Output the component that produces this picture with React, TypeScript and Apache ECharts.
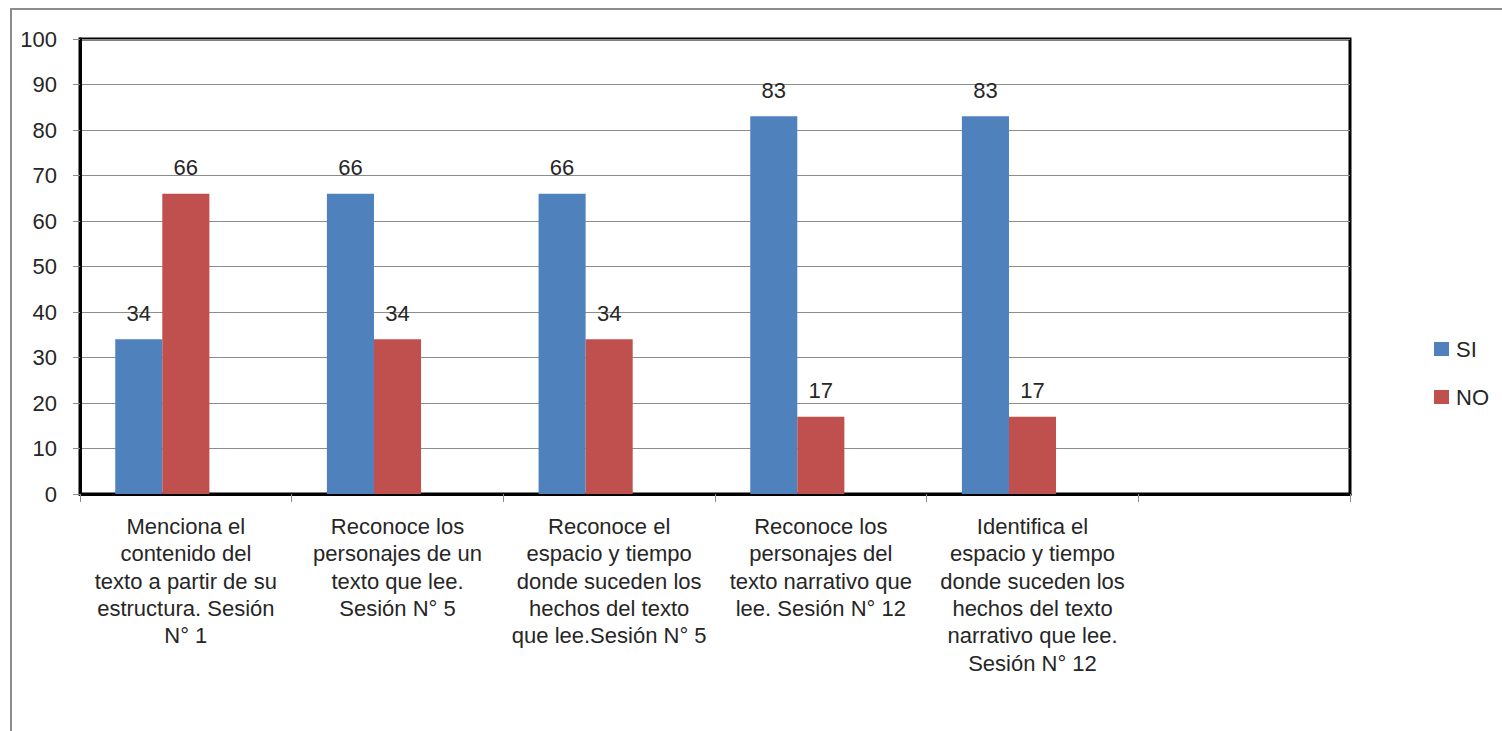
import React, { useEffect, useRef } from "react";
import * as echarts from "echarts";

const categories = [
  "Menciona el\ncontenido del\ntexto a partir de su\nestructura. Sesión\nN° 1",
  "Reconoce los\npersonajes de un\ntexto que lee.\nSesión N° 5",
  "Reconoce el\nespacio y tiempo\ndonde suceden los\nhechos del texto\nque lee.Sesión N° 5",
  "Reconoce los\npersonajes del\ntexto narrativo que\nlee. Sesión N° 12",
  "Identifica el\nespacio y tiempo\ndonde suceden los\nhechos del texto\nnarrativo que lee.\nSesión N° 12",
  "",
];
const siValues = [34, 66, 66, 83, 83, null];
const noValues = [66, 34, 34, 17, 17, null];
const emptyValues = [null, null, null, null, null, null];

const FONT = "'Liberation Sans', Arial, sans-serif";
const FS = 22;
const TXT = "#262626";

export default function App() {
  const ref = useRef<HTMLDivElement>(null);
  useEffect(() => {
    const chart = echarts.init(ref.current!, null, { renderer: "svg" });
    chart.setOption({
      animation: false,
      backgroundColor: "#ffffff",
      textStyle: { fontFamily: FONT },
      graphic: [
        {
          type: "rect",
          shape: { x: 11, y: 9, width: 1600, height: 900 },
          style: { fill: "none", stroke: "#8c8c8c", lineWidth: 2 },
          silent: true,
        },
      ],
      grid: {
        left: 80,
        top: 39,
        right: 152,
        bottom: 237,
        show: true,
        borderColor: "#000000",
        borderWidth: 3,
        containLabel: false,
      },
      legend: {
        orient: "vertical",
        left: 1429,
        top: 333,
        itemWidth: 15,
        itemHeight: 14,
        itemGap: 26,
        icon: "rect",
        data: ["SI", "NO"],
        textStyle: { fontSize: FS, color: TXT, fontFamily: FONT, padding: [0, 0, 0, 2] },
      },
      xAxis: {
        type: "category",
        data: categories,
        axisLine: { show: true, lineStyle: { color: "#000000", width: 3 } },
        axisTick: { show: true, length: 8, lineStyle: { color: "#8c8c8c", width: 1 } },
        axisLabel: {
          interval: 0,
          margin: 19,
          fontSize: FS,
          lineHeight: 27.3,
          color: TXT,
          fontFamily: FONT,
          align: "center",
        },
        splitLine: { show: false },
      },
      yAxis: {
        type: "value",
        min: 0,
        max: 100,
        interval: 10,
        axisLine: { show: true, lineStyle: { color: "#000000", width: 3 } },
        axisTick: { show: true, length: 7, lineStyle: { color: "#8c8c8c", width: 1 } },
        axisLabel: { fontSize: FS, color: TXT, margin: 23, fontFamily: FONT },
        splitLine: { show: true, lineStyle: { color: "#8c8c8c", width: 1 } },
      },
      series: [
        {
          name: "SI",
          type: "bar",
          data: siValues,
          barGap: "0%",
          barCategoryGap: "33.3%",
          itemStyle: { color: "#4F81BD" },
          label: { show: true, position: "top", distance: 15, fontSize: FS, color: TXT, fontFamily: FONT },
        },
        {
          name: "NO",
          type: "bar",
          data: noValues,
          barGap: "0%",
          barCategoryGap: "33.3%",
          itemStyle: { color: "#C0504D" },
          label: { show: true, position: "top", distance: 15, fontSize: FS, color: TXT, fontFamily: FONT },
        },
        {
          name: "",
          type: "bar",
          data: emptyValues,
          barGap: "0%",
          barCategoryGap: "33.3%",
          itemStyle: { color: "#9BBB59" },
        },
      ],
    });
    return () => chart.dispose();
  }, []);
  return (
    <div
      ref={ref}
      style={{ position: "absolute", left: 0, top: 0, width: 1502, height: 731 }}
    />
  );
}
